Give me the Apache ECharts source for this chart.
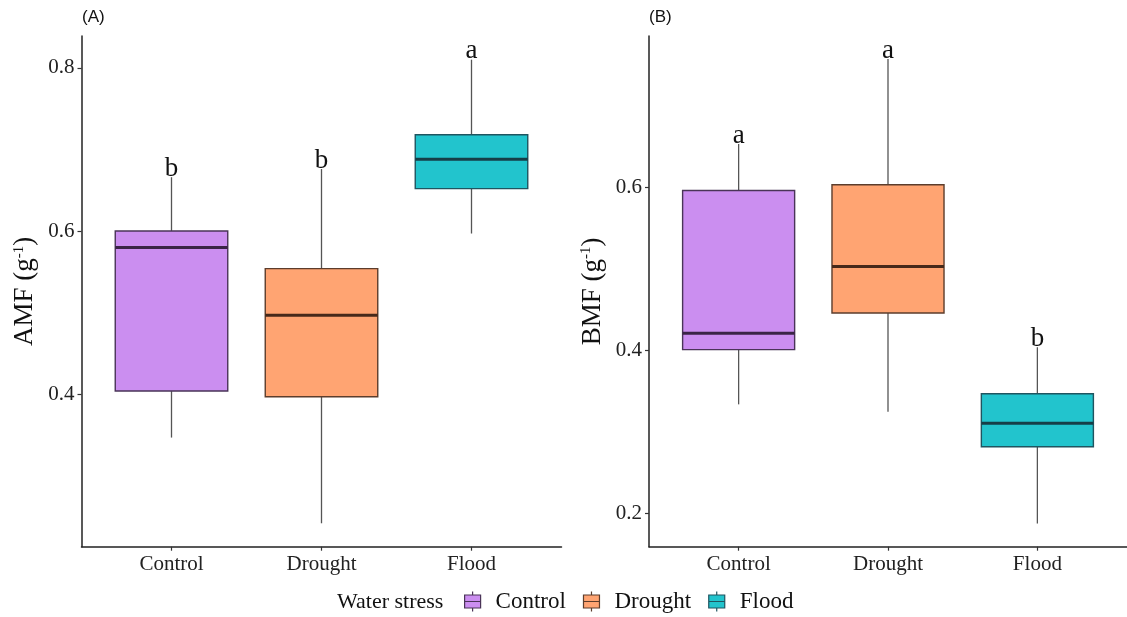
<!DOCTYPE html>
<html>
<head>
<meta charset="utf-8">
<script src="https://cdn.jsdelivr.net/npm/echarts@6/dist/echarts.min.js"></script>
<style>
  html, body { margin: 0; padding: 0; background: #ffffff; }
  #chart { width: 1127px; height: 617px; }
</style>
</head>
<body>
<div id="chart"></div>
<script>
// Water stress groups
const groups = ['Control', 'Drought', 'Flood'];

// AMF (g-1) box summaries per group
const amfMin    = [0.347, 0.242, 0.597];
const amfQ1     = [0.404, 0.397, 0.652];
const amfMedian = [0.580, 0.497, 0.688];
const amfQ3     = [0.600, 0.554, 0.718];
const amfMax    = [0.666, 0.676, 0.810];
const amfLetters = ['b', 'b', 'a'];
const amfTicks = [0.4, 0.6, 0.8];

// BMF (g-1) box summaries per group
const bmfMin    = [0.334, 0.325, 0.188];
const bmfQ1     = [0.401, 0.446, 0.282];
const bmfMedian = [0.421, 0.503, 0.311];
const bmfQ3     = [0.596, 0.603, 0.347];
const bmfMax    = [0.653, 0.757, 0.404];
const bmfLetters = ['a', 'a', 'b'];
const bmfTicks = [0.2, 0.4, 0.6];

const fills   = ['#CB8EF0', '#FFA472', '#22C4CD'];
const borders = ['#4A3458', '#5C3D2C', '#1F5560'];
const medians = ['#3A2446', '#47291A', '#163E47'];
const whiskerColor = '#555555';
const serif = '"Liberation Serif", "DejaVu Serif", serif';
const BOX_WIDTH = 0.75;

function boxRenderer(groupIndex, letter) {
  return function (params, api) {
    const x = api.value(0);
    const lo = api.coord([x, api.value(1)]);
    const q1 = api.coord([x, api.value(2)]);
    const med = api.coord([x, api.value(3)]);
    const q3 = api.coord([x, api.value(4)]);
    const hi = api.coord([x, api.value(5)]);
    const halfW = api.size([BOX_WIDTH, 0])[0] / 2;
    const cx = lo[0];
    return {
      type: 'group',
      children: [
        { type: 'line', shape: { x1: cx, y1: hi[1], x2: cx, y2: q3[1] },
          style: { stroke: whiskerColor, lineWidth: 1.3 } },
        { type: 'line', shape: { x1: cx, y1: q1[1], x2: cx, y2: lo[1] },
          style: { stroke: whiskerColor, lineWidth: 1.3 } },
        { type: 'rect', shape: { x: cx - halfW, y: q3[1], width: 2 * halfW, height: q1[1] - q3[1] },
          style: { fill: fills[groupIndex], stroke: borders[groupIndex], lineWidth: 1.4 } },
        { type: 'line', shape: { x1: cx - halfW, y1: med[1], x2: cx + halfW, y2: med[1] },
          style: { stroke: medians[groupIndex], lineWidth: 3 } },
        { type: 'text', x: cx, y: hi[1] + 5,
          style: { text: letter, fontSize: 27, fontFamily: serif, fill: '#111111',
                   align: 'center', verticalAlign: 'bottom' } }
      ]
    };
  };
}

function panelSeries(axisIndex, mins, q1s, meds, q3s, maxs, letters) {
  return groups.map(function (g, i) {
    return {
      name: g,
      type: 'custom',
      xAxisIndex: axisIndex,
      yAxisIndex: axisIndex,
      itemStyle: { color: fills[i], borderColor: borders[i] },
      encode: { x: 0, y: [1, 2, 3, 4, 5] },
      renderItem: boxRenderer(i, letters[i]),
      data: [[i + 1, mins[i], q1s[i], meds[i], q3s[i], maxs[i]]]
    };
  });
}

function xAxisFor(gridIndex) {
  return {
    gridIndex: gridIndex,
    type: 'value',
    min: 0.4,
    max: 3.6,
    axisLine: { show: true, lineStyle: { color: '#222222', width: 1.5 } },
    axisTick: { show: true, customValues: [1, 2, 3], length: 4, lineStyle: { color: '#333333', width: 1.2 } },
    axisLabel: {
      customValues: [1, 2, 3],
      formatter: function (v) { return groups[Math.round(v) - 1]; },
      fontSize: 21, fontFamily: serif, color: '#222222', margin: 7
    },
    splitLine: { show: false }
  };
}

function yAxisFor(gridIndex, min, max, ticks, label) {
  return {
    gridIndex: gridIndex,
    type: 'value',
    min: min,
    max: max,
    name: '{n|' + label + ' (g}{s|-1}{n|)}',
    nameLocation: 'middle',
    nameGap: 43,
    nameRotate: 90,
    nameTextStyle: {
      rich: {
        n: { fontSize: 27, fontFamily: serif, color: '#111111' },
        s: { fontSize: 15, fontFamily: serif, color: '#111111', verticalAlign: 'top' }
      }
    },
    axisLine: { show: true, lineStyle: { color: '#222222', width: 1.5 } },
    axisTick: { show: true, customValues: ticks, length: 4, lineStyle: { color: '#333333', width: 1.2 } },
    axisLabel: {
      customValues: ticks,
      formatter: function (v) { return v.toFixed(1); },
      fontSize: 21, fontFamily: serif, color: '#222222', margin: 7
    },
    splitLine: { show: false }
  };
}

// Small boxplot glyph used as the legend key
const legendIcon = 'path://M0,3.5H16V16.5H0Z M0,10H16 M8,0V3.5 M8,16.5V20';

const chart = echarts.init(document.getElementById('chart'), null, { renderer: 'canvas' });
chart.setOption({
  backgroundColor: '#ffffff',
  animation: false,
  title: [
    { text: '(A)', left: 82, top: 9, padding: 0,
      textStyle: { fontSize: 17, fontWeight: 'normal', fontFamily: '"Liberation Sans", Arial, sans-serif', color: '#111111' } },
    { text: '(B)', left: 649, top: 9, padding: 0,
      textStyle: { fontSize: 17, fontWeight: 'normal', fontFamily: '"Liberation Sans", Arial, sans-serif', color: '#111111' } },
    { text: 'Water stress', left: 337, top: 591, padding: 0,
      textStyle: { fontSize: 22, fontWeight: 'normal', fontFamily: serif, color: '#111111' } }
  ],
  legend: {
    data: groups.map(function (g, i) {
      return { name: g, icon: legendIcon,
               itemStyle: { color: fills[i], borderColor: borders[i], borderWidth: 1.2 } };
    }),
    left: 464,
    top: 590,
    padding: 0,
    itemWidth: 16,
    itemHeight: 20,
    itemGap: 17,
    selectedMode: false,
    textStyle: { fontSize: 23, fontFamily: serif, color: '#111111', padding: [0, 0, 0, 10] }
  },
  grid: [
    { left: 81.5, top: 36, width: 480, height: 510.7 },
    { left: 649, top: 36, width: 478, height: 510.7 }
  ],
  xAxis: [xAxisFor(0), xAxisFor(1)],
  yAxis: [
    yAxisFor(0, 0.2133, 0.839, amfTicks, 'AMF'),
    yAxisFor(1, 0.1596, 0.7853, bmfTicks, 'BMF')
  ],
  series: panelSeries(0, amfMin, amfQ1, amfMedian, amfQ3, amfMax, amfLetters)
    .concat(panelSeries(1, bmfMin, bmfQ1, bmfMedian, bmfQ3, bmfMax, bmfLetters))
});
</script>
</body>
</html>
